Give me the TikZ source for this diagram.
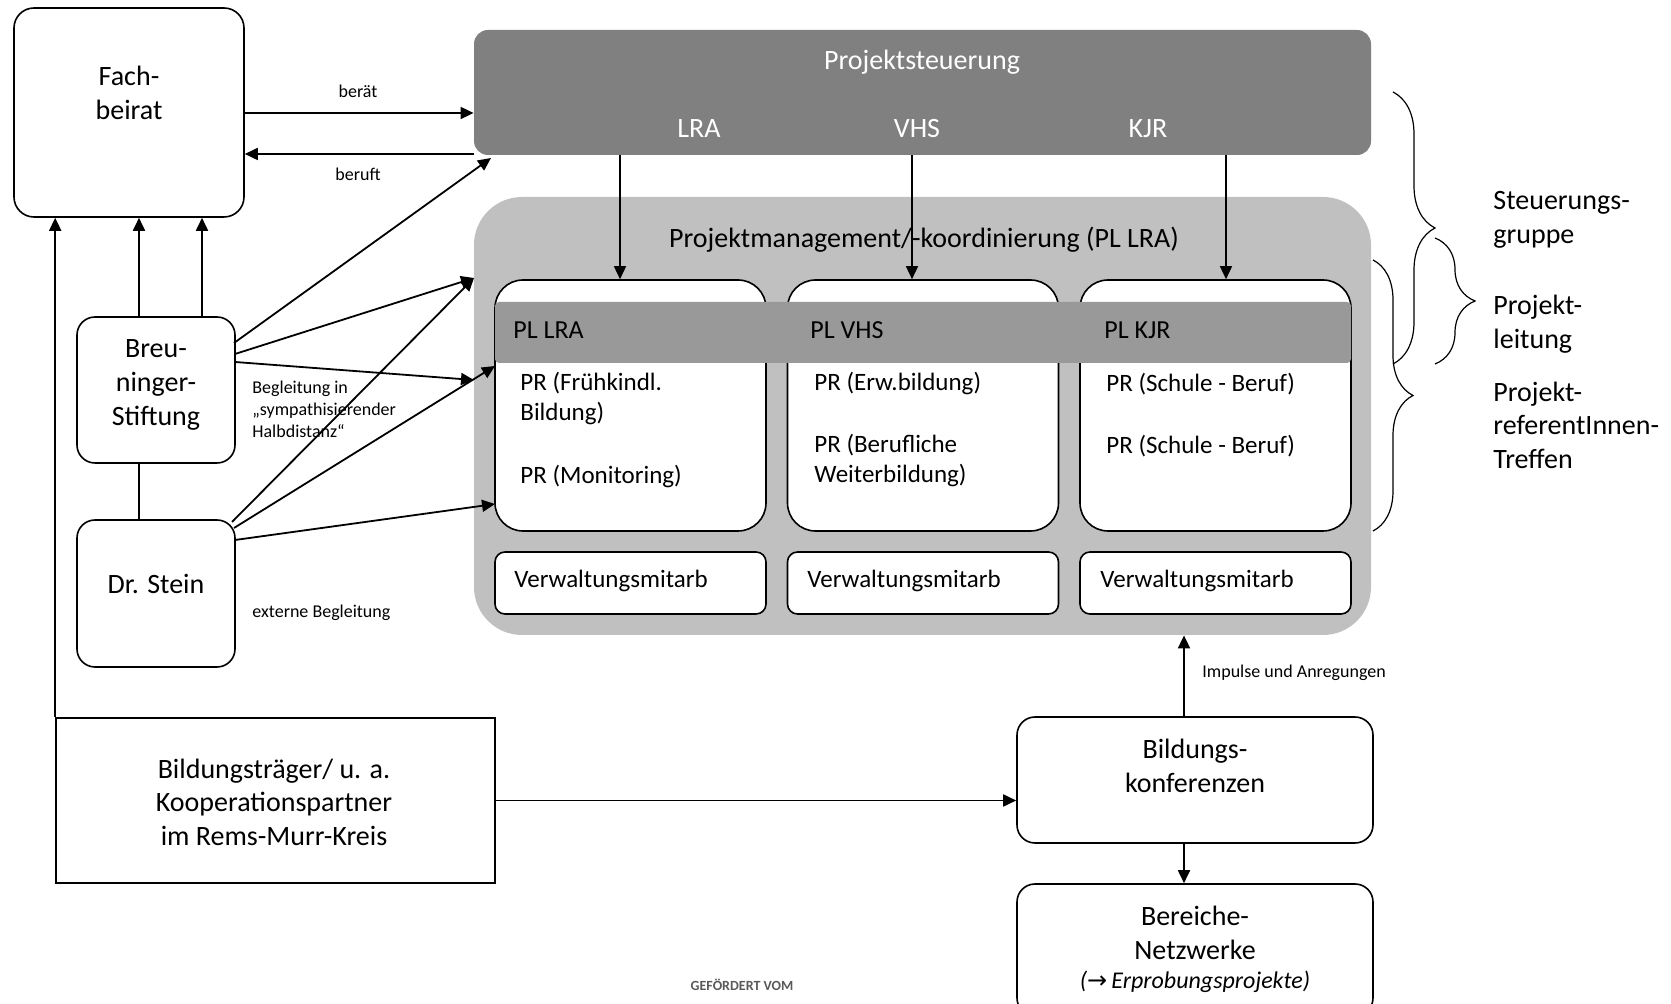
\documentclass[tikz,border=0pt]{standalone}
\usepackage{fontspec}
\setmainfont{Carlito}
\newfontfamily\symfont{DejaVu Sans}
\usetikzlibrary{arrows.meta,decorations.pathreplacing}
\definecolor{psgray}{RGB}{128,128,128}
\definecolor{gmgray}{RGB}{192,192,192}
\definecolor{bandgray}{RGB}{153,153,153}
\definecolor{notegray}{RGB}{90,90,90}
\newcommand\Tmain{\fontsize{14pt}{16.8pt}\selectfont}
\newcommand\Tin{\fontsize{12.5pt}{15pt}\selectfont}
\newcommand\Tpl{\fontsize{13pt}{15pt}\selectfont}
\newcommand\Tsm{\fontsize{9pt}{11pt}\selectfont}
\tikzset{
  arr/.style={-{Triangle[length=6.5pt,width=6pt]}, line width=0.9pt},
  plain/.style={line width=0.9pt},
  rbox/.style={draw, fill=white, line width=0.8pt, inner sep=0pt},
  txt/.style={font=\Tmain, align=center, inner sep=0pt},
  wtxt/.style={font=\Tmain, text=white, inner sep=0pt},
  intxt/.style={font=\Tin, align=left, anchor=west, inner sep=0pt},
  pltxt/.style={font=\Tpl, anchor=west, inner sep=0pt},
  smtxt/.style={font=\Tsm, align=left, inner sep=0pt},
  brtxt/.style={font=\Tmain, align=left, anchor=west, inner sep=0pt},
  bracestyle/.style={decorate, line width=0.6pt}
}
\begin{document}
\begin{tikzpicture}[x=0.5pt,y=-0.5pt]
\clip (0,0) rectangle (1671,1004);
\fill[white] (0,0) rectangle (1671,1004);

% Fachbeirat
\node[rbox, rounded corners=10pt, minimum width=115pt, minimum height=104.5pt] (fb) at (129,112.5) {};
\node[txt] (fbt) at (129,93) {Fach-\\beirat};

% Projektsteuerung
\node[fill=psgray, rounded corners=7pt, minimum width=448.5pt, minimum height=62.5pt, inner sep=0pt] (ps) at (922.5,92.5) {};
\node[wtxt] (pst) at (922,62) {Projektsteuerung};
\node[wtxt] (lra) at (699,129) {LRA};
\node[wtxt] (vhs) at (917,129) {VHS};
\node[wtxt] (kjr) at (1148,129) {KJR};

% Projektmanagement
\node[fill=gmgray, rounded corners=24pt, minimum width=448.5pt, minimum height=219pt, inner sep=0pt] (gm) at (922.5,416) {};
\node[txt] (gmt) at (924,240) {Projektmanagement/-koordinierung (PL LRA)};

% inner boxes
\node[rbox, rounded corners=14pt, minimum width=135.5pt, minimum height=125.5pt] (b1) at (630.5,405.5) {};
\node[rbox, rounded corners=14pt, minimum width=135.5pt, minimum height=125.5pt] (b2) at (923,405.5) {};
\node[rbox, rounded corners=14pt, minimum width=135.5pt, minimum height=125.5pt] (b3) at (1215.5,405.5) {};
\node[fill=bandgray, rounded corners=2pt, minimum width=428pt, minimum height=30.5pt, inner sep=0pt] (band) at (923,332.5) {};
\node[pltxt] (pl1) at (513,330) {PL LRA};
\node[pltxt] (pl2) at (810,330) {PL VHS};
\node[pltxt] (pl3) at (1104,330) {PL KJR};

\node[intxt] (pr1a) at (520,399) {PR (Frühkindl.\\Bildung)};
\node[intxt] (pr1b) at (520,477) {PR (Monitoring)};
\node[intxt] (pr2a) at (814,384) {PR (Erw.bildung)};
\node[intxt] (pr2b) at (814,461) {PR (Berufliche\\Weiterbildung)};
\node[intxt] (pr3a) at (1106,384) {PR (Schule - Beruf)};
\node[intxt] (pr3b) at (1106,446) {PR (Schule - Beruf)};

% Verwaltung
\node[rbox, rounded corners=5pt, minimum width=135.5pt, minimum height=31pt] (v1) at (630.5,583) {};
\node[rbox, rounded corners=5pt, minimum width=135.5pt, minimum height=31pt] (v2) at (923,583) {};
\node[rbox, rounded corners=5pt, minimum width=135.5pt, minimum height=31pt] (v3) at (1215.5,583) {};
\node[intxt] (v1t) at (514,581) {Verwaltungsmitarb};
\node[intxt] (v2t) at (807,581) {Verwaltungsmitarb};
\node[intxt] (v3t) at (1100,581) {Verwaltungsmitarb};

% Breuninger, Dr. Stein
\node[rbox, rounded corners=9pt, minimum width=79pt, minimum height=73pt] (br) at (156,390) {};
\node[txt] (brt) at (156,385) {Breu-\\ninger-\\Stiftung};
\node[rbox, rounded corners=9pt, minimum width=79pt, minimum height=73.5pt] (ds) at (156,593.5) {};
\node[txt] (dst) at (156,584) {Dr. Stein};

% Bildungstraeger
\node[draw, fill=white, line width=0.8pt, minimum width=219.5pt, minimum height=82.5pt, inner sep=0pt] (bt) at (275.5,800.5) {};
\node[txt] (btt) at (274,802) {Bildungsträger/ u. a.\\Kooperationspartner\\im Rems-Murr-Kreis};

% Bildungskonferenzen, Bereiche-Netzwerke
\node[rbox, rounded corners=9pt, minimum width=178pt, minimum height=63pt] (bk) at (1195,780) {};
\node[txt] (bkt) at (1195,766) {Bildungs-\\konferenzen};
\node[rbox, rounded corners=9pt, minimum width=178pt, minimum height=66pt] (bn) at (1195,950) {};
\node[txt] (bnt) at (1195,933) {Bereiche-\\Netzwerke};
\node[txt, font=\fontsize{12pt}{14pt}\selectfont\itshape] (bnt2) at (1195,982) {({\symfont\upshape →}\,Erprobungsprojekte)};

% labels
\node[smtxt] (lb1) at (358,91) {berät};
\node[smtxt] (lb2) at (358,174) {beruft};
\node[smtxt, anchor=west] (lb3) at (252,409) {Begleitung in\\„sympathisierender\\Halbdistanz“};
\node[smtxt, anchor=west] (lb4) at (252,613) {externe Begleitung};
\node[smtxt, anchor=west] (lb5) at (1202,673) {Impulse und Anregungen};
\node[font=\fontsize{7pt}{8pt}\selectfont\bfseries, text=notegray, inner sep=0pt] (gef) at (742,985) {GEFÖRDERT VOM};

% brace labels
\node[brtxt] (bl1) at (1493,220) {Steuerungs-\\gruppe};
\node[brtxt] (bl2) at (1493,324) {Projekt-\\leitung};
\node[brtxt] (bl3) at (1493,425) {Projekt-\\referentInnen-\\Treffen};

% braces
\draw[bracestyle, decoration={brace, amplitude=21pt}] (1393,92) -- (1393,364);
\draw[bracestyle, decoration={brace, amplitude=20pt}] (1435,238) -- (1435,364);
\draw[bracestyle, decoration={brace, amplitude=20pt}] (1373,260) -- (1373,531);

% coordinates
\coordinate (psIn) at (491,158);
\coordinate (gmA) at (474,278);
\coordinate (gmB) at (474,380);
\coordinate (b1A) at (495,366);
\coordinate (b1B) at (495,504);
\coordinate (brA) at (234,343);
\coordinate (brB) at (235,354);
\coordinate (brC) at (235,362);
\coordinate (dsA) at (232,522);
\coordinate (dsB) at (234,528);
\coordinate (dsC) at (235,540);

% connectors
\draw[arr] (fb.east |- 0,113) -- (ps.west |- 0,113);
\draw[arr] (ps.west |- 0,154) -- (fb.east |- 0,154);
\draw[arr] (bt.north west) -- (bt.north west |- fb.south);
\draw[arr] (139,0 |- br.north) -- (139,0 |- fb.south);
\draw[arr] (202,0 |- br.north) -- (202,0 |- fb.south);
\draw[plain] (139,0 |- br.south) -- (139,0 |- ds.north);

\draw[arr] (brA) -- (psIn);
\draw[arr] (brB) -- (gmA);
\draw[arr] (brC) -- (gmB);
\draw[arr] (dsA) -- (gmA);
\draw[arr] (dsB) -- (b1A);
\draw[arr] (dsC) -- (b1B);

\draw[arr, line width=0.75pt] (620,0 |- ps.south) -- (620,0 |- b1.north);
\draw[arr, line width=0.75pt] (912,0 |- ps.south) -- (912,0 |- b2.north);
\draw[arr, line width=0.75pt] (1226,0 |- ps.south) -- (1226,0 |- b3.north);

\draw[arr] (bt.east) -- (bt.east -| bk.west);
\draw[arr] (1184,0 |- bk.north) -- (1184,0 |- gm.south);
\draw[arr] (1184,0 |- bk.south) -- (1184,0 |- bn.north);
\end{tikzpicture}
\end{document}
